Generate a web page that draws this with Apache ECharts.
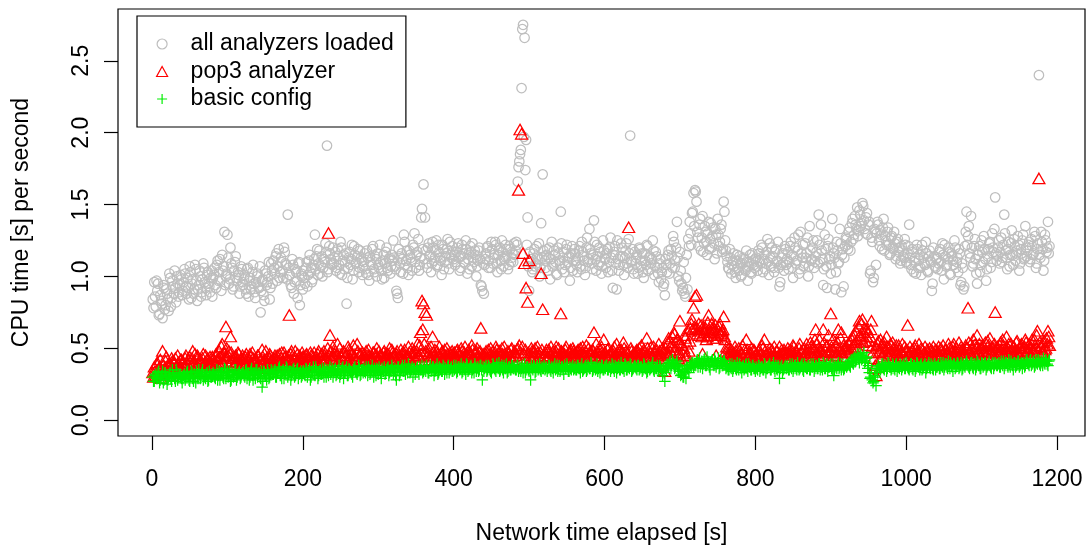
<!DOCTYPE html>
<html>
<head>
<meta charset="utf-8">
<script src="https://cdn.jsdelivr.net/npm/echarts@6/dist/echarts.min.js"></script>
<style>
  html, body { margin: 0; padding: 0; background: #ffffff; }
  #chart { width: 1090px; height: 554px; }
</style>
</head>
<body>
<div id="chart"></div>
<script>
// One measurement per second of network time, stored as two interleaved
// streams: even seconds (2, 4, ..., 1190) and odd seconds (1, 3, ..., 1189).
const evenStart = 2;
const oddStart = 1;
const sampleStep = 2;

const xTicks = [0, 200, 400, 600, 800, 1000, 1200];
const yTicks = [0, 0.5, 1, 1.5, 2, 2.5];

const seriesNames = ['all analyzers loaded', 'pop3 analyzer', 'basic config'];

// CPU time [s] per second, all analyzers loaded (even seconds)
const cpuAllEven = [
  0.78,0.86,0.97,0.95,0.74,0.83,0.71,0.92,0.80,0.88,0.76,0.99,0.85,0.93,1.04,0.82,0.95,0.89,1.01,0.87,
  0.96,1.02,0.88,0.92,1.07,0.85,0.98,0.91,1.05,0.83,0.94,1.00,0.89,1.09,0.96,0.87,1.03,0.93,0.99,0.86,
  1.01,0.94,1.08,0.97,1.12,0.90,1.04,1.31,1.00,1.29,0.95,1.20,1.06,0.93,1.10,0.99,1.03,0.88,1.07,0.96,
  0.98,0.91,1.05,0.86,0.99,0.93,1.08,0.89,0.96,1.02,0.92,0.75,0.97,0.87,1.04,0.94,1.00,0.84,1.09,0.95,
  1.06,1.14,0.97,1.19,1.03,1.10,0.99,1.17,1.08,1.43,1.01,0.94,1.12,0.88,1.05,0.97,1.09,0.80,1.02,0.91,
  0.99,1.06,0.93,1.11,1.03,0.96,1.08,1.29,1.14,1.01,1.18,1.07,1.00,1.12,1.23,1.91,1.05,1.16,1.09,1.20,
  1.13,1.04,1.19,1.08,1.24,1.01,1.15,1.10,0.81,1.06,1.17,1.12,0.98,1.21,1.09,1.14,1.03,1.18,1.11,1.07,
  1.16,1.02,1.13,0.97,1.10,1.19,1.05,1.14,1.00,1.08,1.22,1.04,1.11,0.99,1.17,1.06,1.12,1.02,1.15,1.25,
  1.07,0.90,0.85,1.14,1.03,1.12,1.29,1.08,1.18,1.01,1.15,1.10,1.22,1.30,1.06,1.17,1.04,1.13,1.47,1.64,
  1.41,1.09,1.20,1.14,1.03,1.24,1.11,1.18,1.07,1.22,1.13,1.01,1.19,1.10,1.16,1.26,1.05,1.15,1.21,1.12,
  1.08,1.17,1.23,1.04,1.14,1.19,1.10,1.25,1.02,1.16,1.21,1.07,1.13,1.18,1.00,1.11,1.20,0.94,0.90,0.88,
  1.12,1.20,1.06,1.17,1.24,1.09,1.15,1.22,1.03,1.18,1.11,1.25,1.07,1.14,1.19,1.05,1.21,1.10,1.16,1.23,
  1.18,1.22,1.76,1.85,2.31,2.75,2.66,1.95,1.41,0.90,1.10,1.03,1.16,1.07,1.21,1.12,1.00,1.37,1.71,1.14,
  1.06,1.19,1.13,0.98,1.24,1.09,1.15,1.02,1.20,1.11,1.45,1.05,1.17,1.08,1.22,1.13,0.97,1.16,1.04,1.19,
  1.11,1.03,1.18,1.07,1.24,1.14,1.01,1.20,1.10,1.33,1.16,1.05,1.39,1.12,1.22,1.08,1.17,1.02,1.25,1.13,
  1.06,1.19,1.10,1.27,1.04,1.15,1.21,0.91,1.12,1.08,1.23,1.14,1.01,1.18,1.09,1.26,1.98,1.11,1.05,1.17,
  1.13,1.02,1.20,1.07,1.16,0.99,1.11,1.22,1.04,1.14,1.09,1.25,1.01,1.17,1.06,0.96,1.12,1.03,0.93,0.87,
  1.08,1.15,1.02,1.19,1.06,1.24,1.11,1.38,1.00,1.17,0.95,0.92,0.88,0.99,0.91,1.21,1.30,1.44,1.58,1.60,
  1.52,1.27,1.36,1.18,1.42,1.23,1.31,1.15,1.38,1.26,1.20,1.34,1.12,1.29,1.40,1.21,1.33,1.17,1.52,1.25,
  1.14,1.06,1.19,1.02,1.11,1.07,0.99,1.15,1.04,1.09,1.01,1.13,1.05,1.18,0.97,1.10,1.03,1.16,1.08,1.12,
  1.07,1.18,1.11,1.22,1.03,1.15,1.09,1.26,1.01,1.13,1.20,1.06,1.17,1.10,1.24,0.93,1.08,1.16,1.04,1.19,
  1.12,1.05,1.21,1.15,0.99,1.27,1.09,1.18,1.02,1.31,1.13,1.07,1.23,1.16,1.00,1.35,1.11,1.20,1.06,1.14,
  1.25,1.43,1.10,1.18,0.94,1.29,1.07,1.21,1.12,1.02,1.40,1.16,0.91,1.24,1.09,1.33,0.89,1.19,1.13,1.27,
  1.22,1.31,1.18,1.37,1.26,1.42,1.33,1.28,1.46,1.35,1.51,1.39,1.30,1.44,1.36,1.02,1.27,0.96,1.33,1.08,
  1.38,1.25,1.32,1.19,1.40,1.28,1.22,1.34,1.15,1.27,1.20,1.31,1.12,1.24,1.17,1.09,1.21,1.14,1.26,1.10,
  1.16,1.36,1.08,1.19,1.03,1.13,1.22,1.06,1.15,1.01,1.18,1.09,1.24,1.04,1.14,1.11,0.90,1.20,1.07,1.12,
  1.05,1.17,1.10,1.23,0.98,1.14,1.08,1.20,1.02,1.16,1.11,1.25,1.06,1.13,1.19,0.94,1.09,0.91,1.21,1.45,
  1.28,1.16,1.42,1.07,1.21,1.12,0.95,1.18,1.03,1.25,1.10,1.19,0.97,1.14,1.23,1.06,1.30,1.17,1.55,1.11,
  1.20,1.09,1.27,1.13,1.43,1.18,1.05,1.24,1.15,1.32,1.08,1.21,1.16,1.28,1.04,1.19,1.25,1.12,1.35,1.14,
  1.22,1.10,1.26,1.15,1.31,1.06,1.19,2.40,1.13,1.24,1.04,1.29,1.17,1.38,1.21
];

// CPU time [s] per second, all analyzers loaded (odd seconds)
const cpuAllOdd = [
  0.84,0.96,0.79,0.90,0.73,0.87,0.81,0.94,0.77,0.91,0.84,1.02,0.79,0.97,0.88,0.92,1.00,0.86,0.94,0.98,
  0.90,1.05,0.93,0.99,0.84,1.03,0.95,0.88,1.08,0.97,0.91,1.04,0.86,0.98,1.06,0.92,1.01,0.95,0.89,1.04,
  0.99,1.06,0.92,1.11,1.03,0.97,1.15,1.07,0.94,1.02,1.13,0.98,1.09,0.91,1.04,1.14,0.97,1.01,0.93,1.05,
  0.94,1.01,0.88,1.06,0.97,0.91,1.03,0.95,0.85,1.00,0.93,1.07,0.90,0.98,0.83,1.02,0.96,1.10,0.92,1.04,
  1.11,1.02,1.16,1.07,0.99,1.13,1.04,1.20,1.09,0.98,1.06,1.01,0.92,1.08,0.96,1.03,0.85,1.10,0.94,1.00,
  1.04,0.95,1.10,1.01,1.15,1.06,0.98,1.12,1.05,1.19,1.09,1.02,1.14,1.06,1.10,1.17,1.03,1.21,1.12,1.08,
  1.09,1.17,1.06,1.14,1.02,1.20,1.11,1.05,1.16,0.99,1.13,1.08,1.22,1.04,1.15,1.10,1.19,1.06,1.13,1.01,
  1.10,1.05,1.18,1.01,1.14,1.08,1.21,1.03,1.12,1.16,1.06,1.10,0.98,1.15,1.09,1.20,1.04,1.13,1.07,1.11,
  1.13,1.05,0.88,1.19,1.09,1.16,1.02,1.24,1.11,1.06,1.18,1.13,1.04,1.20,1.10,1.15,1.26,1.08,1.41,1.19,
  1.12,1.18,1.06,1.23,1.15,1.09,1.20,1.13,1.25,1.08,1.17,1.11,1.22,1.05,1.14,1.19,1.09,1.24,1.13,1.17,
  1.15,1.10,1.20,1.13,1.06,1.22,1.16,1.09,1.19,1.12,1.05,1.17,1.23,1.10,1.15,1.07,1.18,1.12,0.93,1.09,
  1.08,1.16,1.21,1.11,1.06,1.19,1.13,1.24,1.09,1.15,1.20,1.05,1.17,1.12,1.22,1.14,1.08,1.19,1.13,1.10,
  1.15,1.24,1.66,1.80,1.88,2.72,1.97,1.74,1.22,1.07,1.17,1.12,1.05,1.19,1.09,1.14,1.23,1.06,1.13,1.18,
  1.11,1.15,1.04,1.20,1.12,1.07,1.18,1.10,1.01,1.16,1.09,1.23,1.13,1.03,1.19,1.10,1.14,1.06,1.21,1.11,
  1.16,1.08,1.13,1.21,1.05,1.17,1.11,1.06,1.27,1.12,1.19,1.09,1.15,1.24,1.04,1.14,1.20,1.10,1.07,1.18,
  1.12,1.16,1.03,1.20,1.13,0.92,1.17,1.09,1.25,1.04,1.14,1.20,1.08,1.13,1.23,1.06,1.16,1.10,1.19,1.02,
  1.09,1.15,1.06,1.19,1.11,1.03,1.16,1.08,1.21,1.13,1.05,1.12,1.18,1.07,1.14,1.02,1.09,0.98,1.06,0.95,
  1.12,1.03,1.18,1.09,1.14,1.28,1.06,1.20,1.13,0.97,1.04,0.90,1.10,0.86,1.15,1.26,1.38,1.22,1.45,1.35,
  1.59,1.31,1.21,1.40,1.27,1.17,1.35,1.24,1.30,1.19,1.37,1.28,1.23,1.33,1.16,1.29,1.24,1.36,1.19,1.45,
  1.18,1.10,1.05,1.13,1.08,1.16,1.03,1.11,1.06,1.14,1.00,1.09,1.12,1.04,1.10,1.07,1.15,1.02,1.11,1.06,
  1.13,1.04,1.16,1.09,1.20,1.12,1.05,1.17,1.10,1.23,1.07,1.14,1.03,1.19,1.11,1.06,0.96,1.13,1.09,1.21,
  1.08,1.17,1.10,1.24,1.06,1.14,1.20,1.11,1.29,1.05,1.16,1.22,1.09,1.13,1.27,1.07,1.18,1.12,1.25,1.10,
  1.17,1.09,1.22,1.36,1.12,1.05,1.19,0.92,1.26,1.14,1.08,1.20,1.13,1.03,1.18,1.10,1.23,1.15,0.93,1.21,
  1.26,1.19,1.34,1.24,1.40,1.29,1.36,1.48,1.32,1.43,1.37,1.49,1.33,1.41,1.29,1.38,1.04,1.24,0.99,1.31,
  1.30,1.36,1.21,1.29,1.34,1.18,1.25,1.31,1.22,1.16,1.28,1.19,1.23,1.14,1.26,1.20,1.11,1.18,1.13,1.22,
  1.09,1.21,1.13,1.05,1.17,1.10,1.02,1.19,1.11,1.06,1.22,1.13,1.08,1.16,1.03,1.18,1.10,0.95,1.14,1.06,
  1.13,1.09,1.19,1.04,1.15,1.22,1.07,1.12,1.17,1.01,1.14,1.08,1.20,1.10,1.03,1.16,0.96,1.06,0.93,1.31,
  1.22,1.35,1.13,1.20,1.09,1.26,1.02,1.15,1.21,1.08,1.17,1.28,1.12,1.05,1.19,1.24,1.10,1.20,1.33,1.16,
  1.14,1.25,1.17,1.10,1.22,1.30,1.13,1.19,1.07,1.23,1.15,1.26,1.11,1.18,1.22,1.09,1.16,1.29,1.13,1.20,
  1.18,1.24,1.12,1.21,1.16,1.28,1.09,1.23,1.15,1.31,1.19,1.11,1.25,1.20,1.16
];

// CPU time [s] per second, pop3 analyzer only (even seconds)
const cpuPop3Even = [
  0.29,0.33,0.38,0.31,0.36,0.28,0.47,0.34,0.40,0.32,0.37,0.30,0.42,0.35,0.39,0.33,0.44,0.36,0.41,0.38,
  0.36,0.42,0.39,0.34,0.43,0.37,0.47,0.40,0.35,0.44,0.38,0.41,0.33,0.45,0.39,0.36,0.42,0.40,0.37,0.43,
  0.38,0.44,0.41,0.36,0.43,0.50,0.39,0.45,0.64,0.42,0.47,0.57,0.40,0.37,0.43,0.39,0.46,0.35,0.41,0.44,
  0.39,0.43,0.36,0.41,0.45,0.38,0.42,0.34,0.40,0.44,0.37,0.41,0.48,0.39,0.35,0.42,0.38,0.45,0.40,0.36,
  0.42,0.38,0.44,0.40,0.36,0.46,0.39,0.43,0.37,0.41,0.72,0.45,0.38,0.42,0.47,0.40,0.35,0.44,0.39,0.43,
  0.40,0.44,0.37,0.42,0.46,0.39,0.43,0.36,0.41,0.45,0.38,0.44,0.40,0.47,0.42,0.39,1.29,0.58,0.43,0.50,
  0.45,0.41,0.52,0.38,0.44,0.40,0.47,0.43,0.37,0.50,0.42,0.46,0.39,0.44,0.41,0.52,0.38,0.45,0.42,0.40,
  0.43,0.47,0.39,0.44,0.41,0.37,0.46,0.42,0.49,0.40,0.44,0.38,0.43,0.47,0.41,0.45,0.39,0.42,0.48,0.44,
  0.41,0.45,0.39,0.44,0.48,0.42,0.46,0.40,0.43,0.50,0.41,0.45,0.38,0.47,0.43,0.52,0.44,0.60,0.82,0.80,
  0.74,0.72,0.45,0.41,0.50,0.57,0.44,0.40,0.47,0.43,0.39,0.46,0.42,0.48,0.41,0.45,0.38,0.44,0.47,0.42,
  0.43,0.47,0.41,0.45,0.49,0.42,0.46,0.40,0.44,0.48,0.43,0.51,0.41,0.45,0.47,0.42,0.46,0.63,0.44,0.40,
  0.45,0.42,0.48,0.44,0.40,0.47,0.43,0.50,0.41,0.46,0.44,0.49,0.42,0.45,0.39,0.47,0.43,0.48,0.41,0.46,
  0.44,0.48,1.59,2.01,1.98,1.15,1.08,0.91,0.81,1.10,0.42,0.47,0.43,0.49,0.41,0.46,0.44,1.01,0.76,0.43,
  0.46,0.42,0.48,0.44,0.40,0.47,0.43,0.50,0.45,0.41,0.73,0.46,0.42,0.48,0.44,0.39,0.47,0.43,0.49,0.45,
  0.42,0.47,0.44,0.49,0.41,0.45,0.43,0.51,0.40,0.46,0.44,0.48,0.60,0.43,0.47,0.42,0.45,0.50,0.41,0.46,
  0.44,0.48,0.42,0.46,0.40,0.47,0.43,0.52,0.45,0.41,0.48,0.44,0.49,0.42,0.46,1.33,0.43,0.47,0.41,0.45,
  0.47,0.43,0.49,0.45,0.41,0.48,0.44,0.56,0.42,0.46,0.50,0.43,0.47,0.41,0.45,0.52,0.44,0.48,0.42,0.33,
  0.46,0.53,0.44,0.50,0.57,0.60,0.48,0.55,0.42,0.68,0.51,0.45,0.58,0.43,0.52,0.47,0.63,0.69,0.77,0.85,
  0.86,0.62,0.58,0.65,0.45,0.60,0.63,0.57,0.72,0.61,0.66,0.56,0.62,0.44,0.59,0.64,0.58,0.61,0.71,0.55,
  0.50,0.46,0.42,0.48,0.44,0.40,0.47,0.43,0.49,0.41,0.45,0.43,0.48,0.55,0.44,0.40,0.46,0.42,0.48,0.44,
  0.43,0.47,0.41,0.45,0.49,0.55,0.44,0.40,0.46,0.42,0.48,0.44,0.39,0.47,0.43,0.50,0.41,0.45,0.48,0.42,
  0.46,0.42,0.48,0.44,0.51,0.41,0.47,0.43,0.49,0.45,0.40,0.48,0.44,0.52,0.42,0.46,0.50,0.43,0.47,0.62,
  0.45,0.49,0.43,0.47,0.62,0.44,0.50,0.46,0.41,0.73,0.48,0.44,0.51,0.45,0.62,0.47,0.60,0.43,0.49,0.46,
  0.48,0.52,0.47,0.55,0.50,0.58,0.53,0.49,0.68,0.56,0.69,0.60,0.54,0.62,0.51,0.57,0.68,0.46,0.35,0.30,
  0.52,0.46,0.55,0.43,0.50,0.47,0.57,0.44,0.49,0.45,0.53,0.41,0.48,0.46,0.51,0.43,0.47,0.44,0.50,0.42,
  0.65,0.46,0.42,0.48,0.44,0.51,0.41,0.45,0.43,0.49,0.40,0.46,0.44,0.48,0.42,0.47,0.43,0.50,0.41,0.45,
  0.47,0.43,0.49,0.45,0.41,0.48,0.44,0.52,0.42,0.46,0.50,0.43,0.47,0.45,0.53,0.44,0.48,0.42,0.46,0.49,
  0.77,0.47,0.44,0.50,0.46,0.52,0.58,0.45,0.49,0.43,0.51,0.47,0.44,0.54,0.48,0.45,0.50,0.46,0.74,0.48,
  0.45,0.51,0.47,0.55,0.44,0.49,0.46,0.52,0.43,0.48,0.50,0.45,0.53,0.47,0.44,0.51,0.46,0.49,0.55,0.47,
  0.48,0.45,0.52,0.47,0.55,0.49,0.61,1.67,0.50,0.46,0.53,0.48,0.56,0.61,0.51
];

// CPU time [s] per second, pop3 analyzer only (odd seconds)
const cpuPop3Odd = [
  0.32,0.36,0.30,0.39,0.34,0.41,0.31,0.37,0.35,0.43,0.33,0.38,0.36,0.40,0.34,0.42,0.37,0.39,0.35,0.41,
  0.40,0.37,0.44,0.38,0.41,0.35,0.42,0.39,0.45,0.37,0.43,0.40,0.38,0.42,0.36,0.44,0.41,0.38,0.43,0.39,
  0.41,0.37,0.45,0.40,0.47,0.43,0.52,0.46,0.42,0.49,0.44,0.40,0.46,0.42,0.38,0.44,0.41,0.45,0.39,0.42,
  0.42,0.38,0.45,0.40,0.37,0.43,0.46,0.39,0.42,0.36,0.44,0.40,0.38,0.43,0.41,0.47,0.39,0.42,0.44,0.40,
  0.39,0.44,0.41,0.37,0.45,0.42,0.40,0.46,0.43,0.38,0.44,0.41,0.47,0.39,0.43,0.37,0.45,0.41,0.42,0.46,
  0.43,0.39,0.45,0.41,0.38,0.44,0.40,0.46,0.43,0.39,0.47,0.42,0.45,0.38,0.44,0.41,0.49,0.44,0.47,0.41,
  0.42,0.47,0.44,0.40,0.49,0.43,0.41,0.46,0.44,0.39,0.48,0.42,0.45,0.51,0.43,0.40,0.47,0.44,0.41,0.46,
  0.45,0.41,0.44,0.48,0.40,0.43,0.46,0.39,0.45,0.42,0.47,0.44,0.40,0.46,0.43,0.38,0.45,0.49,0.42,0.46,
  0.44,0.40,0.47,0.43,0.41,0.45,0.39,0.48,0.44,0.42,0.46,0.40,0.49,0.44,0.41,0.47,0.43,0.51,0.45,0.62,
  0.52,0.47,0.43,0.49,0.44,0.41,0.46,0.48,0.42,0.45,0.50,0.43,0.47,0.40,0.44,0.49,0.42,0.46,0.43,0.45,
  0.46,0.42,0.48,0.44,0.40,0.47,0.43,0.50,0.45,0.41,0.46,0.44,0.48,0.42,0.45,0.49,0.43,0.47,0.41,0.45,
  0.43,0.47,0.41,0.45,0.49,0.44,0.42,0.46,0.48,0.43,0.47,0.41,0.45,0.50,0.44,0.42,0.46,0.44,0.49,0.43,
  0.47,0.44,0.49,0.51,0.46,0.50,0.45,0.48,0.42,0.46,0.44,0.49,0.43,0.47,0.45,0.50,0.42,0.46,0.48,0.44,
  0.44,0.48,0.43,0.46,0.50,0.42,0.45,0.47,0.41,0.49,0.44,0.47,0.43,0.45,0.50,0.42,0.46,0.48,0.44,0.47,
  0.45,0.43,0.48,0.42,0.46,0.50,0.44,0.47,0.43,0.49,0.45,0.42,0.47,0.44,0.52,0.46,0.43,0.48,0.44,0.55,
  0.46,0.43,0.49,0.44,0.47,0.42,0.50,0.45,0.43,0.48,0.44,0.46,0.53,0.43,0.47,0.45,0.41,0.49,0.44,0.46,
  0.44,0.48,0.46,0.42,0.51,0.45,0.47,0.43,0.49,0.44,0.46,0.42,0.50,0.45,0.48,0.43,0.47,0.44,0.49,0.45,
  0.49,0.45,0.56,0.47,0.52,0.44,0.59,0.50,0.55,0.46,0.53,0.41,0.49,0.56,0.44,0.61,0.54,0.66,0.62,0.64,
  0.63,0.59,0.66,0.61,0.57,0.64,0.60,0.55,0.67,0.62,0.58,0.63,0.60,0.65,0.56,0.61,0.66,0.59,0.62,0.57,
  0.47,0.43,0.49,0.45,0.41,0.46,0.50,0.44,0.42,0.47,0.45,0.51,0.43,0.46,0.48,0.42,0.45,0.49,0.43,0.47,
  0.45,0.42,0.48,0.44,0.51,0.43,0.47,0.45,0.41,0.49,0.44,0.46,0.50,0.43,0.47,0.42,0.45,0.48,0.44,0.46,
  0.44,0.49,0.45,0.42,0.47,0.50,0.43,0.46,0.44,0.52,0.47,0.43,0.49,0.45,0.48,0.44,0.53,0.46,0.50,0.55,
  0.52,0.46,0.55,0.48,0.44,0.53,0.47,0.51,0.58,0.46,0.50,0.55,0.47,0.43,0.53,0.49,0.56,0.46,0.51,0.48,
  0.50,0.46,0.54,0.49,0.57,0.52,0.61,0.55,0.64,0.58,0.66,0.53,0.63,0.57,0.60,0.54,0.62,0.50,0.42,0.37,
  0.49,0.54,0.47,0.51,0.45,0.53,0.48,0.50,0.44,0.52,0.47,0.49,0.45,0.51,0.43,0.48,0.46,0.52,0.44,0.47,
  0.48,0.44,0.50,0.46,0.42,0.49,0.45,0.47,0.52,0.43,0.48,0.45,0.50,0.42,0.46,0.49,0.44,0.47,0.45,0.48,
  0.45,0.50,0.44,0.47,0.51,0.43,0.48,0.46,0.49,0.44,0.47,0.52,0.45,0.49,0.43,0.48,0.50,0.46,0.44,0.51,
  0.49,0.53,0.46,0.48,0.55,0.45,0.50,0.47,0.52,0.44,0.49,0.46,0.53,0.47,0.51,0.56,0.46,0.49,0.52,0.47,
  0.50,0.46,0.53,0.48,0.51,0.45,0.57,0.49,0.47,0.52,0.46,0.50,0.48,0.54,0.45,0.49,0.52,0.47,0.50,0.53,
  0.47,0.52,0.49,0.55,0.46,0.51,0.58,0.48,0.53,0.50,0.47,0.54,0.49,0.52,0.57
];

// CPU time [s] per second, basic configuration (even seconds)
const cpuBasicEven = [
  0.27,0.31,0.29,0.33,0.26,0.30,0.34,0.28,0.32,0.25,0.30,0.33,0.27,0.31,0.29,0.35,0.28,0.32,0.30,0.26,
  0.31,0.28,0.33,0.30,0.27,0.34,0.29,0.32,0.26,0.31,0.35,0.29,0.33,0.28,0.30,0.32,0.27,0.34,0.30,0.31,
  0.32,0.29,0.35,0.31,0.28,0.33,0.30,0.36,0.29,0.34,0.31,0.27,0.33,0.30,0.35,0.28,0.32,0.34,0.30,0.33,
  0.31,0.34,0.29,0.33,0.30,0.36,0.28,0.32,0.35,0.30,0.33,0.29,0.23,0.34,0.31,0.28,0.33,0.30,0.35,0.32,
  0.34,0.30,0.33,0.36,0.31,0.29,0.35,0.32,0.37,0.30,0.34,0.28,0.33,0.36,0.31,0.35,0.29,0.33,0.30,0.34,
  0.32,0.36,0.30,0.34,0.28,0.33,0.37,0.31,0.35,0.29,0.34,0.32,0.36,0.30,0.33,0.35,0.31,0.37,0.34,0.30,
  0.35,0.31,0.34,0.38,0.32,0.36,0.29,0.33,0.37,0.31,0.35,0.33,0.30,0.36,0.34,0.32,0.38,0.31,0.35,0.33,
  0.34,0.37,0.31,0.35,0.33,0.38,0.30,0.34,0.36,0.32,0.35,0.29,0.34,0.37,0.33,0.36,0.31,0.35,0.38,0.32,
  0.36,0.28,0.37,0.31,0.35,0.38,0.34,0.32,0.36,0.39,0.33,0.35,0.30,0.36,0.34,0.37,0.32,0.35,0.38,0.34,
  0.35,0.38,0.33,0.36,0.34,0.37,0.31,0.35,0.39,0.33,0.36,0.34,0.38,0.32,0.35,0.37,0.33,0.36,0.34,0.38,
  0.36,0.33,0.37,0.35,0.39,0.34,0.36,0.32,0.38,0.35,0.37,0.33,0.36,0.39,0.34,0.37,0.35,0.38,0.28,0.34,
  0.37,0.34,0.38,0.35,0.33,0.39,0.36,0.34,0.37,0.40,0.35,0.38,0.33,0.36,0.39,0.34,0.37,0.35,0.38,0.36,
  0.35,0.38,0.34,0.37,0.36,0.33,0.39,0.35,0.37,0.34,0.28,0.36,0.38,0.33,0.37,0.35,0.39,0.34,0.36,0.38,
  0.36,0.34,0.38,0.35,0.37,0.33,0.39,0.36,0.34,0.38,0.35,0.37,0.32,0.36,0.39,0.34,0.37,0.35,0.38,0.36,
  0.35,0.38,0.36,0.33,0.39,0.35,0.37,0.34,0.38,0.36,0.40,0.34,0.37,0.35,0.39,0.36,0.33,0.38,0.35,0.37,
  0.38,0.35,0.37,0.34,0.39,0.36,0.38,0.33,0.37,0.35,0.40,0.36,0.34,0.38,0.35,0.37,0.39,0.34,0.36,0.38,
  0.36,0.38,0.35,0.37,0.34,0.39,0.36,0.33,0.38,0.35,0.37,0.40,0.34,0.36,0.38,0.35,0.37,0.34,0.36,0.27,
  0.35,0.38,0.40,0.36,0.42,0.39,0.37,0.41,0.35,0.38,0.32,0.30,0.34,0.29,0.36,0.33,0.38,0.40,0.37,0.39,
  0.41,0.37,0.43,0.39,0.36,0.42,0.38,0.44,0.40,0.35,0.41,0.39,0.43,0.37,0.40,0.36,0.42,0.38,0.41,0.39,
  0.37,0.35,0.39,0.36,0.34,0.38,0.36,0.40,0.35,0.37,0.33,0.38,0.36,0.39,0.34,0.37,0.35,0.38,0.36,0.34,
  0.36,0.38,0.34,0.37,0.35,0.39,0.33,0.36,0.38,0.35,0.37,0.40,0.34,0.36,0.38,0.29,0.37,0.33,0.36,0.38,
  0.37,0.35,0.39,0.36,0.34,0.38,0.36,0.40,0.35,0.37,0.39,0.34,0.37,0.36,0.38,0.35,0.39,0.37,0.34,0.38,
  0.36,0.39,0.35,0.37,0.40,0.36,0.38,0.34,0.37,0.39,0.35,0.31,0.38,0.36,0.40,0.37,0.35,0.39,0.36,0.38,
  0.38,0.40,0.37,0.41,0.39,0.44,0.42,0.46,0.40,0.45,0.43,0.47,0.41,0.44,0.38,0.29,0.36,0.26,0.31,0.24,
  0.33,0.37,0.35,0.39,0.36,0.38,0.34,0.40,0.37,0.35,0.39,0.36,0.38,0.34,0.37,0.39,0.35,0.38,0.36,0.40,
  0.37,0.35,0.39,0.36,0.38,0.34,0.40,0.37,0.35,0.39,0.36,0.38,0.33,0.37,0.40,0.36,0.38,0.35,0.39,0.37,
  0.38,0.36,0.40,0.37,0.35,0.39,0.37,0.41,0.36,0.38,0.34,0.39,0.37,0.40,0.36,0.38,0.35,0.39,0.37,0.41,
  0.38,0.36,0.40,0.37,0.39,0.35,0.41,0.38,0.36,0.40,0.37,0.39,0.35,0.38,0.41,0.37,0.39,0.36,0.40,0.38,
  0.39,0.37,0.41,0.38,0.36,0.40,0.38,0.42,0.37,0.39,0.35,0.40,0.38,0.41,0.37,0.39,0.36,0.40,0.38,0.42,
  0.39,0.41,0.38,0.40,0.37,0.42,0.39,0.41,0.38,0.40,0.43,0.39,0.41,0.38,0.42
];

// CPU time [s] per second, basic configuration (odd seconds)
const cpuBasicOdd = [
  0.30,0.27,0.32,0.29,0.34,0.28,0.31,0.26,0.33,0.30,0.28,0.32,0.29,0.35,0.31,0.27,0.33,0.30,0.32,0.29,
  0.29,0.32,0.30,0.34,0.28,0.31,0.33,0.27,0.30,0.34,0.29,0.32,0.30,0.35,0.31,0.29,0.33,0.28,0.32,0.30,
  0.33,0.30,0.32,0.28,0.34,0.31,0.33,0.29,0.35,0.32,0.30,0.34,0.28,0.32,0.31,0.35,0.30,0.33,0.29,0.32,
  0.33,0.30,0.35,0.32,0.28,0.34,0.31,0.33,0.29,0.35,0.32,0.30,0.34,0.27,0.33,0.31,0.35,0.29,0.32,0.34,
  0.32,0.35,0.30,0.33,0.37,0.31,0.34,0.29,0.33,0.36,0.32,0.34,0.31,0.35,0.30,0.33,0.36,0.32,0.34,0.31,
  0.34,0.31,0.35,0.33,0.36,0.30,0.34,0.32,0.37,0.33,0.31,0.35,0.32,0.34,0.36,0.30,0.33,0.35,0.32,0.36,
  0.33,0.36,0.32,0.35,0.30,0.34,0.37,0.33,0.35,0.31,0.36,0.34,0.32,0.35,0.37,0.33,0.34,0.36,0.32,0.35,
  0.36,0.33,0.35,0.37,0.32,0.35,0.34,0.36,0.31,0.35,0.37,0.33,0.36,0.34,0.32,0.35,0.37,0.33,0.34,0.36,
  0.34,0.31,0.35,0.37,0.33,0.36,0.34,0.38,0.35,0.33,0.36,0.34,0.37,0.35,0.32,0.36,0.34,0.37,0.35,0.33,
  0.37,0.34,0.36,0.33,0.38,0.35,0.37,0.34,0.36,0.32,0.37,0.35,0.34,0.37,0.36,0.33,0.38,0.35,0.37,0.34,
  0.35,0.38,0.34,0.37,0.36,0.33,0.37,0.35,0.39,0.34,0.36,0.38,0.35,0.33,0.37,0.36,0.34,0.38,0.35,0.37,
  0.36,0.38,0.35,0.37,0.34,0.36,0.38,0.35,0.39,0.36,0.34,0.37,0.35,0.38,0.36,0.33,0.37,0.35,0.38,0.36,
  0.37,0.35,0.38,0.36,0.34,0.38,0.36,0.33,0.37,0.35,0.36,0.38,0.35,0.37,0.34,0.38,0.36,0.35,0.37,0.36,
  0.35,0.37,0.36,0.38,0.34,0.36,0.37,0.35,0.38,0.36,0.34,0.37,0.35,0.38,0.36,0.37,0.34,0.36,0.37,0.35,
  0.37,0.35,0.38,0.36,0.37,0.34,0.36,0.38,0.35,0.37,0.36,0.38,0.35,0.37,0.36,0.34,0.37,0.36,0.38,0.35,
  0.36,0.38,0.35,0.37,0.36,0.38,0.34,0.37,0.36,0.38,0.35,0.37,0.36,0.39,0.35,0.37,0.36,0.38,0.35,0.37,
  0.37,0.35,0.38,0.36,0.37,0.35,0.38,0.36,0.34,0.37,0.36,0.38,0.35,0.37,0.36,0.34,0.38,0.35,0.31,0.33,
  0.36,0.39,0.37,0.41,0.38,0.40,0.36,0.39,0.37,0.34,0.31,0.35,0.30,0.33,0.37,0.35,0.39,0.37,0.40,0.38,
  0.38,0.42,0.40,0.37,0.41,0.39,0.43,0.38,0.41,0.37,0.40,0.42,0.38,0.41,0.39,0.43,0.37,0.40,0.38,0.41,
  0.36,0.38,0.35,0.37,0.39,0.36,0.38,0.35,0.37,0.39,0.36,0.37,0.35,0.38,0.36,0.39,0.37,0.35,0.38,0.36,
  0.37,0.35,0.38,0.36,0.37,0.35,0.38,0.36,0.37,0.39,0.35,0.37,0.36,0.38,0.35,0.37,0.36,0.38,0.35,0.37,
  0.36,0.38,0.35,0.37,0.39,0.36,0.38,0.35,0.37,0.36,0.38,0.35,0.39,0.37,0.36,0.38,0.35,0.37,0.39,0.36,
  0.38,0.36,0.39,0.37,0.35,0.38,0.36,0.39,0.37,0.38,0.36,0.39,0.35,0.37,0.38,0.36,0.39,0.37,0.35,0.38,
  0.37,0.39,0.38,0.42,0.40,0.43,0.41,0.45,0.43,0.46,0.42,0.44,0.40,0.43,0.36,0.33,0.30,0.28,0.27,0.30,
  0.35,0.38,0.36,0.37,0.39,0.35,0.38,0.36,0.39,0.37,0.36,0.38,0.35,0.39,0.37,0.36,0.38,0.37,0.39,0.36,
  0.38,0.36,0.37,0.39,0.35,0.38,0.36,0.39,0.37,0.38,0.35,0.37,0.39,0.36,0.38,0.37,0.39,0.36,0.38,0.35,
  0.37,0.39,0.36,0.38,0.40,0.37,0.39,0.36,0.38,0.40,0.37,0.39,0.36,0.38,0.39,0.37,0.40,0.36,0.38,0.39,
  0.39,0.37,0.38,0.40,0.36,0.39,0.37,0.40,0.38,0.36,0.39,0.38,0.40,0.37,0.39,0.38,0.36,0.40,0.38,0.39,
  0.38,0.40,0.37,0.39,0.41,0.38,0.40,0.37,0.39,0.41,0.38,0.40,0.37,0.39,0.41,0.38,0.40,0.39,0.37,0.41,
  0.40,0.38,0.42,0.39,0.41,0.38,0.40,0.42,0.39,0.41,0.38,0.40,0.42,0.39,0.41
];

const FONT = '"Liberation Sans", Arial, Helvetica, sans-serif';
const FONT_SIZE = 23;
const LINE = 1.2;
const MARK_LINE = 1.25;

const styles = [
  { symbol: 'circle', size: 9.5, offset: [0, 0], color: '#BEBEBE' },
  { symbol: 'triangle', size: [12, 10.5], offset: [0, -1.7], color: '#FF0000' },
  { symbol: 'path://M0,5L10,5M5,0L5,10', size: 11.5, offset: [0, 0], color: '#00EE00' }
];

function toPoints(values, start) {
  return values.map((v, i) => [start + i * sampleStep, v]);
}

const dataSets = [
  toPoints(cpuAllEven, evenStart).concat(toPoints(cpuAllOdd, oddStart)),
  toPoints(cpuPop3Even, evenStart).concat(toPoints(cpuPop3Odd, oddStart)),
  toPoints(cpuBasicEven, evenStart).concat(toPoints(cpuBasicOdd, oddStart))
];

const chart = echarts.init(document.getElementById('chart'), null, { renderer: 'canvas' });

chart.setOption({
  animation: false,
  backgroundColor: '#ffffff',
  textStyle: { fontFamily: FONT, color: '#000000' },
  grid: {
    left: 118, right: 5, top: 9, bottom: 118,
    show: true,
    borderColor: '#000000',
    borderWidth: LINE,
    backgroundColor: 'transparent'
  },
  xAxis: {
    type: 'value',
    min: -45.1,
    max: 1237.1,
    name: 'Network time elapsed [s]',
    nameLocation: 'middle',
    nameGap: 86,
    nameTextStyle: { fontSize: FONT_SIZE, color: '#000', fontFamily: FONT },
    axisLine: { show: false, onZero: false },
    splitLine: { show: false },
    axisTick: {
      show: true, inside: false, length: 14,
      customValues: xTicks,
      lineStyle: { color: '#000', width: LINE }
    },
    axisLabel: {
      customValues: xTicks,
      fontSize: FONT_SIZE, color: '#000', fontFamily: FONT,
      margin: 32,
      formatter: v => String(v)
    }
  },
  yAxis: {
    type: 'value',
    min: -0.11,
    max: 2.86,
    name: 'CPU time [s] per second',
    nameLocation: 'middle',
    nameGap: 85,
    nameRotate: 90,
    nameTextStyle: { fontSize: FONT_SIZE, color: '#000', fontFamily: FONT },
    axisLine: { show: false, onZero: false },
    splitLine: { show: false },
    axisTick: {
      show: true, inside: false, length: 14,
      customValues: yTicks,
      lineStyle: { color: '#000', width: LINE }
    },
    axisLabel: {
      customValues: yTicks,
      rotate: 90,
      fontSize: FONT_SIZE, color: '#000', fontFamily: FONT,
      margin: 25,
      formatter: v => v.toFixed(1)
    }
  },
  legend: {
    orient: 'vertical',
    left: 137,
    top: 16,
    padding: [16.5, 12, 16.5, 19],
    itemWidth: 11,
    itemHeight: 10,
    itemGap: 4.5,
    symbolKeepAspect: true,
    borderColor: '#000',
    borderWidth: LINE,
    backgroundColor: '#ffffff',
    selectedMode: false,
    textStyle: {
      fontSize: FONT_SIZE, lineHeight: 23, color: '#000', fontFamily: FONT,
      padding: [0, 0, 0, 18]
    },
    data: seriesNames.map((name, k) => ({
      name: name,
      icon: styles[k].symbol,
      itemStyle: { color: 'rgba(0,0,0,0)', borderColor: styles[k].color, borderWidth: LINE }
    }))
  },
  series: seriesNames.map((name, k) => ({
    name: name,
    type: 'scatter',
    data: dataSets[k],
    symbol: styles[k].symbol,
    symbolSize: styles[k].size,
    symbolOffset: styles[k].offset,
    itemStyle: {
      color: 'rgba(0,0,0,0)',
      borderColor: styles[k].color,
      borderWidth: MARK_LINE,
      opacity: 1
    },
    emphasis: { disabled: true },
    large: false,
    progressive: 0,
    z: 2 + k
  }))
});
</script>
</body>
</html>
